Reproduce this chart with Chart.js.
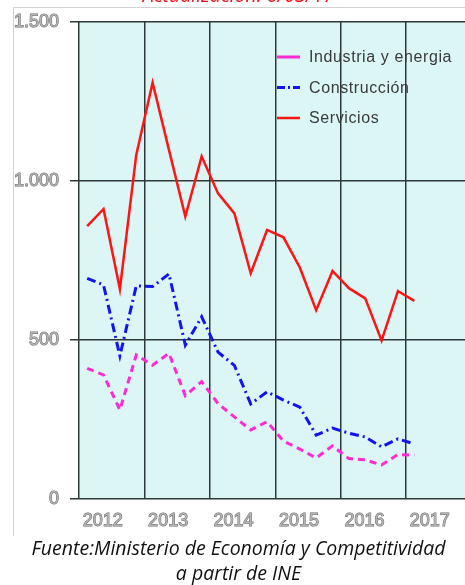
<!DOCTYPE html>
<html lang="es">
<head>
<meta charset="utf-8">
<title>Afiliados por sector</title>
<script src="https://cdn.jsdelivr.net/npm/chart.js@4/dist/chart.umd.min.js"></script>
<style>
  html, body { margin: 0; padding: 0; background: #fff; }
  body { width: 465px; height: 585px; position: relative; overflow: hidden; }
  #frame {
    position: absolute; left: 13px; top: 7px; width: 470px; height: 528px;
    border-top: 1px solid #d2d2d2; border-left: 1px solid #d2d2d2;
  }
  #chart { position: absolute; left: 0; top: 0; }
  .note {
    position: absolute; left: 6px; width: 465px; text-align: center;
    font-family: "Open Sans", "Noto Sans", sans-serif; font-style: italic;
    font-size: 19.5px; line-height: 25px; white-space: nowrap;
  }
  #updated { top: -18px; color: #e8141b; }
  #source { top: 535px; color: #111; }
</style>
</head>
<body>
<div id="frame"></div>
<canvas id="chart" width="465" height="585"></canvas>
<div class="note" id="updated">Actualización: 6/03/17</div>
<div class="note" id="source">Fuente:Ministerio de Economía y Competitividad<br>a partir de INE</div>
<script>
// quarterly figures, 2012 Q1 .. 2017 Q1
const years = ['2012', '2013', '2014', '2015', '2016', '2017'];
const industria = [411, 390, 280, 453, 421, 458, 325, 369, 300, 258, 217, 243, 182, 157, 129, 167, 127, 123, 107, 140, 138];
const construccion = [694, 673, 450, 670, 668, 708, 484, 573, 462, 420, 299, 337, 311, 289, 201, 223, 207, 195, 164, 189, 173];
const servicios = [858, 912, 660, 1082, 1309, 1098, 888, 1077, 961, 898, 710, 846, 823, 728, 594, 717, 663, 631, 498, 654, 623];
const yTicks = [0, 500, 1000, 1500];
const yTickLabels = ['0', '500', '1.000', '1.500'];

// each quarter sits in the middle of its slot
const points = vals => vals.map((v, i) => ({ x: i + 0.5, y: v }));
const X_MAX = 23.6;

const plotBackground = {
    id: 'plotBackground',
    beforeDraw(chart) {
        const { ctx, chartArea: a } = chart;
        ctx.save();
        ctx.fillStyle = '#dcf6f5';
        ctx.fillRect(a.left, a.top, a.right - a.left, a.bottom - a.top);
        ctx.restore();
    }
};

// legend drawn inside the plot, top right
const insideLegend = {
    id: 'insideLegend',
    afterDatasetsDraw(chart) {
        const { ctx, chartArea: a } = chart;
        ctx.save();
        ctx.font = '16px "Liberation Sans", Arial, sans-serif';
        ctx.letterSpacing = '0.6px';
        ctx.textBaseline = 'middle';
        chart.data.datasets.forEach((ds, k) => {
            const x = a.left + 198;
            const y = a.top + 35 + k * 30.5;
            ctx.strokeStyle = ds.borderColor;
            ctx.lineWidth = ds.borderWidth;
            ctx.setLineDash(ds.legendDash);
            ctx.beginPath();
            ctx.moveTo(x, y);
            ctx.lineTo(x + 23, y);
            ctx.stroke();
            ctx.setLineDash([]);
            ctx.fillStyle = '#3a3a3a';
            ctx.fillText(ds.label, x + 32, y + 1);
        });
        ctx.restore();
    }
};

const tickFont = { family: '"Liberation Sans", Arial, sans-serif', size: 18 };
const gridColor = '#2e3838';

new Chart(document.getElementById('chart'), {
    type: 'line',
    data: {
        datasets: [
            {
                label: 'Industria y energia',
                data: points(industria),
                borderColor: '#ff2ad4',
                borderWidth: 3,
                borderDash: [7, 5],
                legendDash: []
            },
            {
                label: 'Construcción',
                data: points(construccion),
                borderColor: '#1414f0',
                borderWidth: 3,
                borderDash: [9, 4, 2, 4],
                legendDash: [8, 3, 2, 3]
            },
            {
                label: 'Servicios',
                data: points(servicios),
                borderColor: '#ff1414',
                borderWidth: 2.5,
                legendDash: []
            }
        ]
    },
    options: {
        responsive: false,
        animation: false,
        devicePixelRatio: 1,
        layout: { padding: { top: 22, left: 0, right: 0, bottom: 0 } },
        elements: { point: { radius: 0 }, line: { tension: 0 } },
        plugins: { legend: { display: false }, tooltip: { enabled: false } },
        scales: {
            x: {
                type: 'linear', min: 0, max: X_MAX,
                afterBuildTicks: s => { s.ticks = years.map((_, k) => ({ value: k * 4 })); },
                afterFit: s => { s.height = 0; },
                ticks: { display: false },
                grid: { color: gridColor, lineWidth: 1.5, drawTicks: false },
                border: { display: false }
            },
            xl: {
                type: 'linear', position: 'bottom', min: 0, max: X_MAX,
                afterBuildTicks: s => { s.ticks = years.map((_, k) => ({ value: k * 4 + 1.45 })); },
                afterFit: s => { s.height = 86; },
                ticks: {
                    callback: (v, i) => years[i],
                    autoSkip: false, maxRotation: 0, padding: 11,
                    font: tickFont, color: '#b4b4b4',
                    textStrokeColor: '#6a6a6a', textStrokeWidth: 1
                },
                grid: { display: false, drawTicks: false },
                border: { display: false }
            },
            y: {
                min: 0, max: 1500,
                afterBuildTicks: s => { s.ticks = yTicks.map(v => ({ value: v })); },
                afterFit: s => { s.width = 79; },
                ticks: {
                    callback: (v, i) => yTickLabels[i],
                    autoSkip: false, padding: 11,
                    font: tickFont, color: '#b4b4b4',
                    textStrokeColor: '#6a6a6a', textStrokeWidth: 1
                },
                grid: { color: gridColor, lineWidth: 1.5, tickLength: 9 },
                border: { display: false }
            }
        }
    },
    plugins: [plotBackground, insideLegend]
});
</script>
</body>
</html>
